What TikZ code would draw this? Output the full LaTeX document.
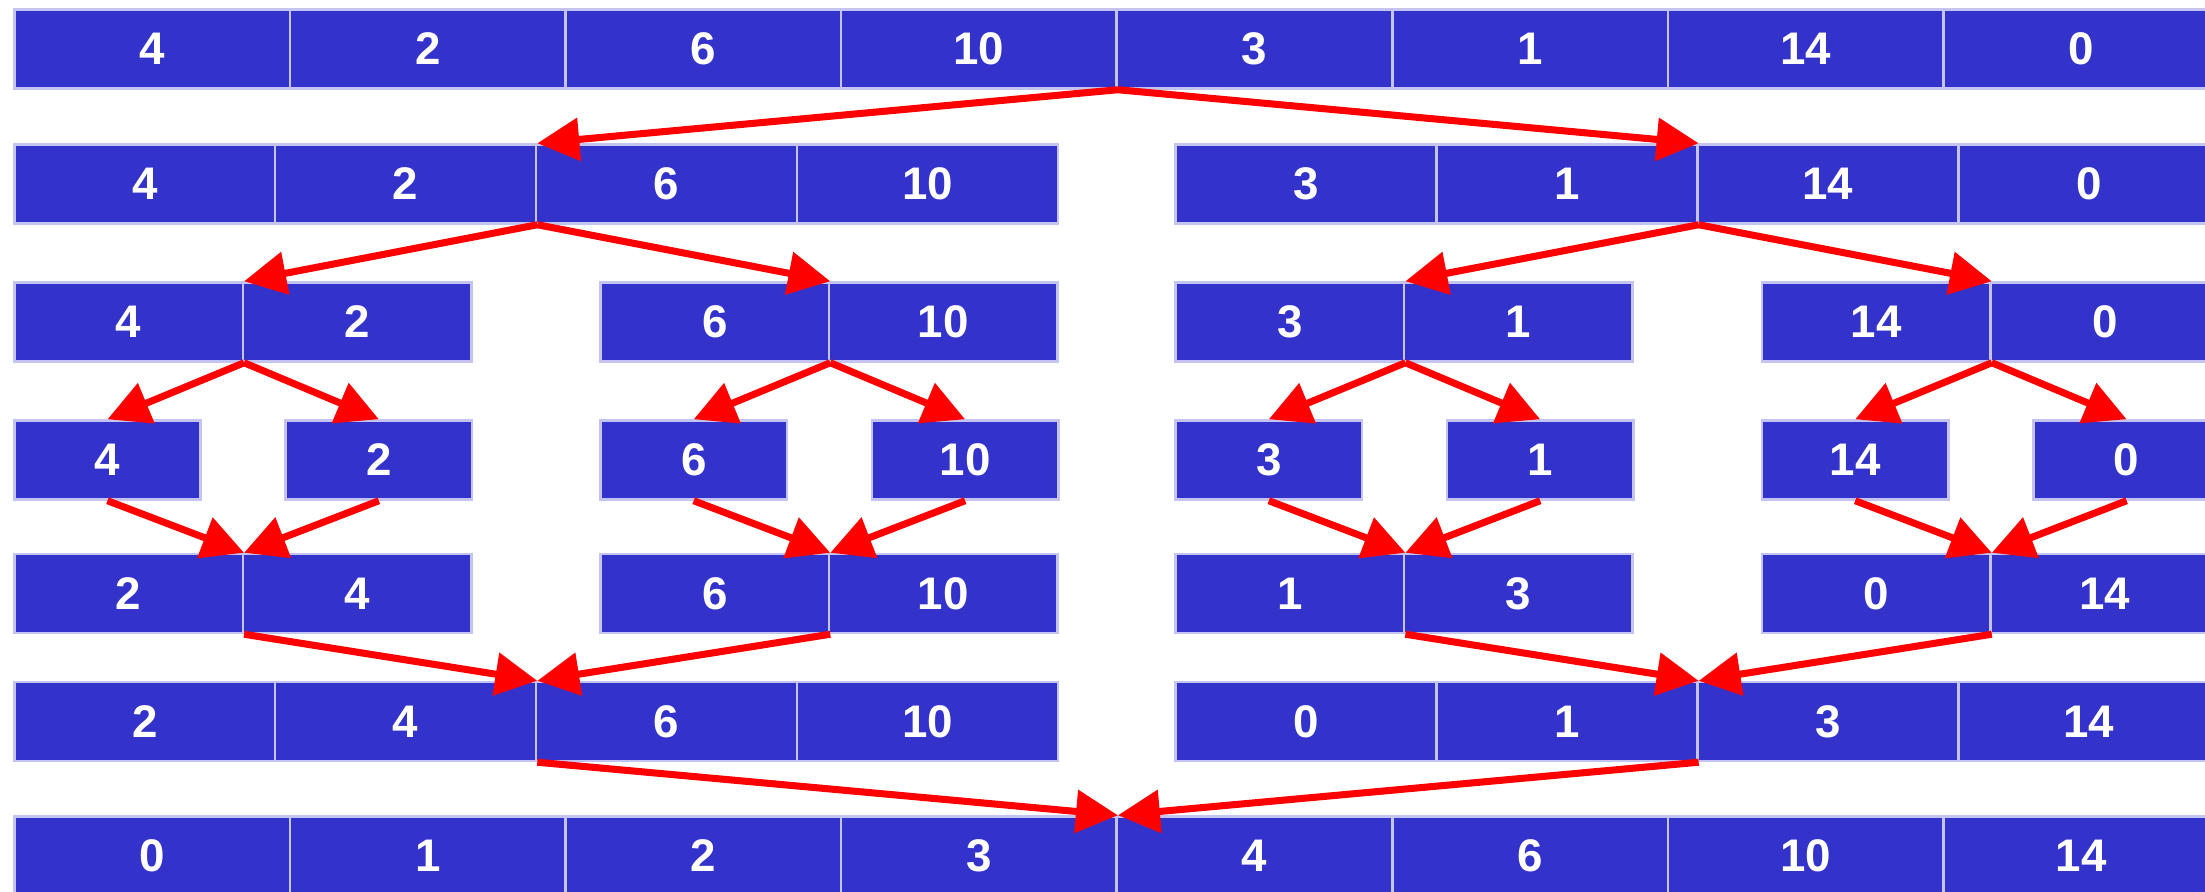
\documentclass[tikz,border=0pt]{standalone}
\usepackage{fontspec}
\setmainfont{Liberation Sans}
\usetikzlibrary{arrows.meta}
\definecolor{cellblue}{HTML}{3333CC}
\definecolor{celledge}{HTML}{C4C4F2}
\definecolor{mergered}{HTML}{FF0000}

\begin{document}
\begin{tikzpicture}[
  numcell/.style={draw=celledge, line width=0.7pt, fill=cellblue, text=white,
    font=\bfseries\fontsize{13}{15}\selectfont, minimum height=0.79cm, inner sep=0pt},
  sortarrow/.style={draw=mergered, line width=2pt, -{Triangle[length=0.42cm,width=0.42cm]}}
]
\useasboundingbox (0,0) rectangle (22.05,-8.92);
% split rows
\foreach \v [count=\i] in {4,2,6,10,3,1,14,0}
  \node[numcell, minimum width=2.756cm] (a\i) at ({0.143+(\i-0.5)*2.756},-0.49) {\v};
\foreach \v [count=\i] in {4,2,6,10,3,1,14,0}
  \node[numcell, minimum width=2.609cm] (b\i) at ({0.143+(\i-0.5)*2.609+(\i>4)*1.177},-1.84) {\v};
\foreach \v/\x [count=\i] in {4/1.286,2/3.571,6/7.148,10/9.433,3/12.899,1/15.184,14/18.763,0/21.048}
  \node[numcell, minimum width=2.285cm] (c\i) at (\x,-3.22) {\v};
\foreach \v/\x [count=\i] in {4/1.075,2/3.789,6/6.937,10/9.651,3/12.688,1/15.402,14/18.552,0/21.266}
  \node[numcell, minimum width=1.864cm] (d\i) at (\x,-4.60) {\v};
% merge rows
\foreach \v/\x [count=\i] in {2/1.286,4/3.571,6/7.148,10/9.433,1/12.899,3/15.184,0/18.763,14/21.048}
  \node[numcell, minimum width=2.285cm] (e\i) at (\x,-5.935) {\v};
\foreach \v [count=\i] in {2,4,6,10,0,1,3,14}
  \node[numcell, minimum width=2.609cm] (f\i) at ({0.143+(\i-0.5)*2.609+(\i>4)*1.177},-7.215) {\v};
\foreach \v [count=\i] in {0,1,2,3,4,6,10,14}
  \node[numcell, minimum width=2.756cm] (g\i) at ({0.143+(\i-0.5)*2.756},-8.56) {\v};

% arrows
\draw[sortarrow] (a4.south east) -- (b2.north east);
\draw[sortarrow] (a4.south east) -- (b6.north east);
\foreach \p/\l/\r in {2/1/3,6/5/7} {
  \draw[sortarrow] (b\p.south east) -- (c\l.north east);
  \draw[sortarrow] (b\p.south east) -- (c\r.north east);
}
\foreach \p/\l/\r in {1/1/2,3/3/4,5/5/6,7/7/8} {
  \draw[sortarrow] (c\p.south east) -- (d\l.north);
  \draw[sortarrow] (c\p.south east) -- (d\r.north);
  \draw[sortarrow] (d\l.south) -- (e\p.north east);
  \draw[sortarrow] (d\r.south) -- (e\p.north east);
}
\foreach \p/\l/\r in {2/1/3,6/5/7} {
  \draw[sortarrow] (e\l.south east) -- (f\p.north east);
  \draw[sortarrow] (e\r.south east) -- (f\p.north east);
}
\draw[sortarrow] (f2.south east) -- (g4.north east);
\draw[sortarrow] (f6.south east) -- (g4.north east);
\end{tikzpicture}
\end{document}
